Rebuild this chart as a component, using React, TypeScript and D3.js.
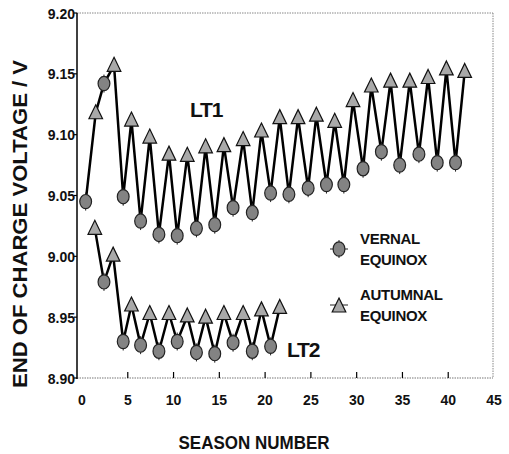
import React from "react";
import * as d3 from "d3";

// Season positions and end-of-charge voltages
const lt1Season = [0.4, 1.5, 2.4, 3.5, 4.5, 5.4, 6.4, 7.4, 8.4, 9.5, 10.4, 11.5, 12.5, 13.5, 14.5, 15.5, 16.5, 17.6, 18.6, 19.6, 20.6, 21.6, 22.6, 23.6, 24.7, 25.6, 26.7, 27.6, 28.6, 29.6, 30.7, 31.6, 32.7, 33.7, 34.7, 35.8, 36.8, 37.8, 38.8, 39.8, 40.8, 41.8];
const lt1Voltage = [9.045, 9.118, 9.142, 9.157, 9.049, 9.112, 9.029, 9.098, 9.018, 9.084, 9.017, 9.083, 9.023, 9.090, 9.026, 9.091, 9.040, 9.096, 9.036, 9.103, 9.052, 9.114, 9.051, 9.114, 9.056, 9.116, 9.059, 9.111, 9.059, 9.128, 9.072, 9.140, 9.086, 9.144, 9.075, 9.144, 9.084, 9.147, 9.077, 9.154, 9.077, 9.152];
const lt1Equinox = ["V", "A", "V", "A", "V", "A", "V", "A", "V", "A", "V", "A", "V", "A", "V", "A", "V", "A", "V", "A", "V", "A", "V", "A", "V", "A", "V", "A", "V", "A", "V", "A", "V", "A", "V", "A", "V", "A", "V", "A", "V", "A"];

const lt2Season = [1.4, 2.4, 3.4, 4.5, 5.4, 6.4, 7.4, 8.4, 9.5, 10.4, 11.5, 12.5, 13.5, 14.5, 15.5, 16.5, 17.6, 18.6, 19.6, 20.6, 21.6];
const lt2Voltage = [9.023, 8.979, 9.001, 8.930, 8.960, 8.927, 8.953, 8.922, 8.953, 8.930, 8.951, 8.921, 8.950, 8.920, 8.953, 8.929, 8.953, 8.922, 8.956, 8.926, 8.958];
const lt2Equinox = ["A", "V", "A", "V", "A", "V", "A", "V", "A", "V", "A", "V", "A", "V", "A", "V", "A", "V", "A", "V", "A"];

const xTicks = [0, 5, 10, 15, 20, 25, 30, 35, 40, 45];
const yTicks = [8.9, 8.95, 9.0, 9.05, 9.1, 9.15, 9.2];

const FONT = "'Liberation Sans', Arial, Helvetica, sans-serif";
const CIRCLE_FILL = "#838383";
const TRI_FILL = "#a9a9a9";

function Circle({ x, y }: { x: number; y: number }) {
  return (
    <g>
      <line x1={x} x2={x} y1={y - 9} y2={y + 9} stroke="#222" strokeWidth={1} />
      <ellipse cx={x} cy={y} rx={5.9} ry={7.1} fill={CIRCLE_FILL} stroke="#222" strokeWidth={1.2} />
    </g>
  );
}

function Triangle({ x, y }: { x: number; y: number }) {
  const p = `M${x},${y - 8}L${x + 6.8},${y + 6}L${x - 6.8},${y + 6}Z`;
  return <path d={p} fill={TRI_FILL} stroke="#111" strokeWidth={1.2} strokeLinejoin="miter" />;
}

export default function App() {
  const left = 77, right = 493, top = 13, bottom = 378;
  const x = d3.scaleLinear().domain([0, 45]).range([82, 494]);
  const y = d3.scaleLinear().domain([8.9, 9.2]).range([bottom, top]);

  const lt1 = lt1Season.map((s, i) => ({ s, v: lt1Voltage[i], e: lt1Equinox[i] }));
  const lt2 = lt2Season.map((s, i) => ({ s, v: lt2Voltage[i], e: lt2Equinox[i] }));
  const line = d3
    .line<{ s: number; v: number }>()
    .x((d) => x(d.s))
    .y((d) => y(d.v));

  const marker = (d: { s: number; v: number; e: string }, i: number) =>
    d.e === "V" ? <Circle key={i} x={x(d.s)} y={y(d.v)} /> : <Triangle key={i} x={x(d.s)} y={y(d.v)} />;

  return (
    <svg
      width={509}
      height={454}
      style={{ position: "absolute", left: 0, top: 0, background: "#fff" }}
      fontFamily={FONT}
      fontWeight="bold"
    >
      <rect x={0} y={0} width={509} height={454} fill="#fff" />
      {/* frame */}
      <line x1={left} x2={right} y1={top} y2={top} stroke="#888" strokeWidth={1} strokeDasharray="1.5,1" />
      <line x1={right} x2={right} y1={top} y2={bottom} stroke="#888" strokeWidth={1} strokeDasharray="1.5,1" />
      <line x1={left} x2={right} y1={bottom} y2={bottom} stroke="#777" strokeWidth={1.2} strokeDasharray="1.5,1" />
      <line x1={left} x2={left} y1={top} y2={bottom + 1} stroke="#000" strokeWidth={1.5} />

      {/* y ticks */}
      {yTicks.map((t) => (
        <g key={t}>
          <line x1={left - 3} x2={left} y1={y(t)} y2={y(t)} stroke="#000" strokeWidth={1.2} />
          <text x={left - 2} y={y(t) + 5.5} textAnchor="end" fontSize={14} fill="#111">
            {t.toFixed(2)}
          </text>
        </g>
      ))}
      {/* x ticks */}
      {xTicks.map((t) => (
        <g key={t}>
          {t > 0 && t < 45 && (
            <line x1={x(t)} x2={x(t)} y1={bottom} y2={bottom - 6} stroke="#000" strokeWidth={1.2} />
          )}
          <text x={x(t)} y={405} textAnchor="middle" fontSize={14} fill="#111">
            {t}
          </text>
        </g>
      ))}

      {/* axis titles */}
      <text x={254} y={449} textAnchor="middle" fontSize={18.5} fill="#111" textLength={151} lengthAdjust="spacingAndGlyphs">
        SEASON NUMBER
      </text>
      <text
        transform={`translate(26.5,224) rotate(-90)`}
        textAnchor="middle"
        fontSize={19.5}
        fill="#111"
        textLength={328}
        lengthAdjust="spacingAndGlyphs"
      >
        END OF CHARGE VOLTAGE / V
      </text>

      {/* series lines */}
      <path d={line(lt1) || ""} fill="none" stroke="#000" strokeWidth={2.5} strokeLinejoin="miter" />
      <path d={line(lt2) || ""} fill="none" stroke="#000" strokeWidth={2.5} strokeLinejoin="miter" />
      {lt1.map(marker)}
      {lt2.map(marker)}

      {/* series labels */}
      <text x={190} y={117} fontSize={21} fill="#111" letterSpacing={-1.2}>LT1</text>
      <text x={287} y={357} fontSize={21} fill="#111" letterSpacing={-1.2}>LT2</text>

      {/* legend */}
      <line x1={330} x2={348} y1={249} y2={249} stroke="#222" strokeWidth={1} />
      <Circle x={339} y={249} />
      <text x={360} y={244} fontSize={15} fill="#111" letterSpacing={-0.3}>VERNAL</text>
      <text x={360} y={265} fontSize={15} fill="#111" letterSpacing={-0.3}>EQUINOX</text>
      <line x1={330} x2={348} y1={305} y2={305} stroke="#222" strokeWidth={1} />
      <Triangle x={339} y={306} />
      <text x={360} y={300} fontSize={15} fill="#111" letterSpacing={-0.3}>AUTUMNAL</text>
      <text x={360} y={321} fontSize={15} fill="#111" letterSpacing={-0.3}>EQUINOX</text>
    </svg>
  );
}
